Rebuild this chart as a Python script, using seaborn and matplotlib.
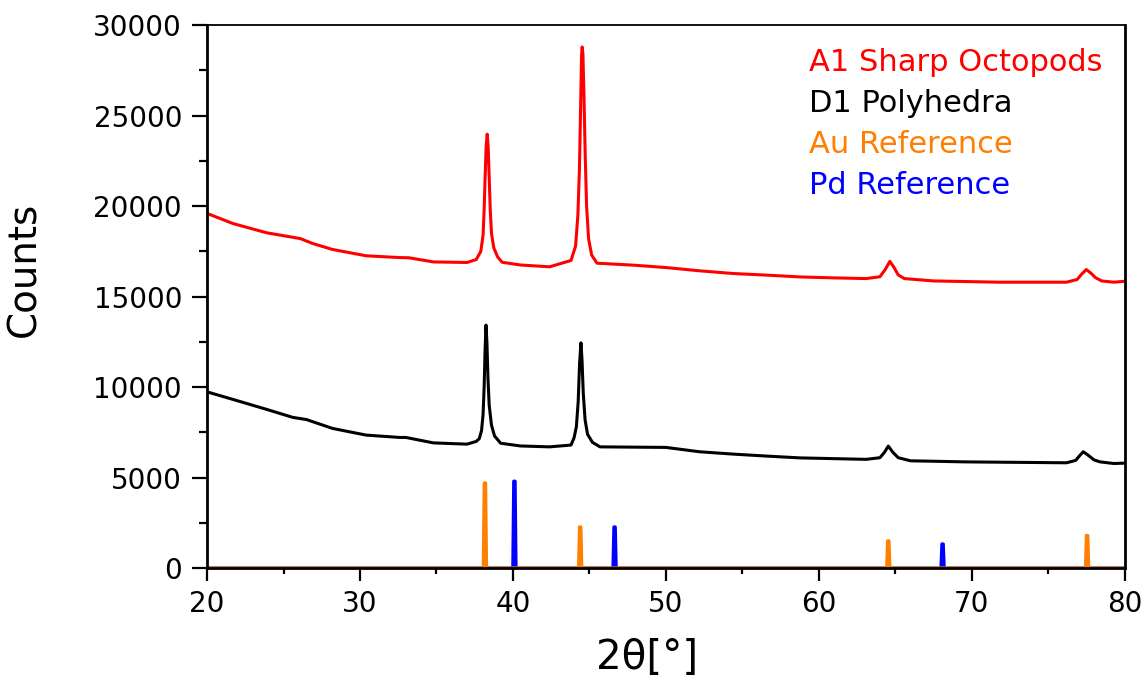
import matplotlib
matplotlib.use("Agg")
import matplotlib.pyplot as plt
import seaborn as sns
import numpy as np
import pandas as pd

# ---------------- data ----------------
a1_theta = [20.0, 21.7, 23.9, 26.1, 26.9, 28.2, 30.4, 32.6, 33.2, 34.8, 37.0, 37.6,
            37.9, 38.05, 38.12, 38.18, 38.25, 38.32, 38.38, 38.45, 38.52, 38.6, 38.75,
            39.0, 39.3, 40.5, 42.4, 43.8, 44.1, 44.25, 44.35, 44.43, 44.49, 44.53,
            44.58, 44.65, 44.73, 44.82, 44.95, 45.15, 45.5, 47.9, 50.0, 52.2, 54.4,
            56.6, 58.8, 60.9, 63.1, 64.0, 64.35, 64.65, 64.9, 65.2, 65.6, 67.5, 71.8,
            76.2, 76.9, 77.2, 77.5, 77.8, 78.1, 78.5, 79.3, 80.0]
a1_counts = [19600, 19040, 18530, 18210, 17940, 17610, 17260, 17160, 17150, 16920, 16890, 17050,
             17500, 18400, 19800, 21500, 23300, 23980, 23300, 21600, 19800, 18500, 17700,
             17200, 16900, 16750, 16650, 17000, 17800, 19500, 22000, 25500, 28300, 28800,
             28400, 26000, 22800, 20000, 18200, 17300, 16850, 16740, 16610, 16430, 16280,
             16190, 16090, 16040, 16000, 16100, 16500, 16950, 16650, 16200, 16000, 15870, 15800,
             15800, 15950, 16250, 16500, 16300, 16050, 15870, 15800, 15850]

d1_theta = [20.0, 21.7, 23.9, 25.6, 26.5, 28.2, 30.4, 32.6, 33.0, 34.8, 37.0, 37.6,
            37.8, 37.95, 38.05, 38.12, 38.18, 38.24, 38.3, 38.37, 38.45, 38.6, 38.8,
            39.2, 40.5, 42.4, 43.8, 44.0, 44.15, 44.27, 44.36, 44.45, 44.52, 44.6,
            44.72, 44.88, 45.2, 45.7, 50.0, 52.2, 54.4, 56.6, 58.8, 63.1, 64.0,
            64.3, 64.55, 64.85, 65.2, 66.0, 69.6, 76.2, 76.8, 77.1, 77.3, 77.6,
            78.0, 78.4, 79.3, 80.0]
d1_counts = [9740, 9320, 8770, 8330, 8210, 7720, 7350, 7220, 7220, 6920, 6850, 7000,
             7150, 7600, 8500, 10000, 12000, 13430, 12500, 10500, 9000, 7900, 7300,
             6900, 6750, 6700, 6800, 7200, 7800, 9200, 11300, 12450, 11500, 9700,
             8200, 7400, 6950, 6700, 6670, 6430, 6300, 6190, 6090, 6010, 6100,
             6400, 6740, 6400, 6100, 5930, 5870, 5820, 5950, 6250, 6430, 6250,
             5980, 5870, 5780, 5800]

au_theta = [38.17, 44.40, 64.55, 77.55]
au_counts = [4700, 2270, 1500, 1800]
pd_theta = [40.10, 46.65, 68.10]
pd_counts = [4800, 2270, 1330]

series_labels = ["A1 Sharp Octopods", "D1 Polyhedra", "Au Reference", "Pd Reference"]
series_colors = ["#FF0000", "#000000", "#FF7F00", "#0000FF"]

x_ticks = [20, 30, 40, 50, 60, 70, 80]
y_ticks = [0, 5000, 10000, 15000, 20000, 25000, 30000]


def stick_pattern(pos, hts, lo=20.0, hi=80.0, half=0.1):
    xs, ys = [lo], [0]
    for p, h in zip(pos, hts):
        xs += [p - half, p - 0.04, p + 0.04, p + half]
        ys += [0, h, h, 0]
    xs.append(hi)
    ys.append(0)
    return pd.DataFrame({"theta": xs, "counts": ys})


df_a1 = pd.DataFrame({"theta": a1_theta, "counts": a1_counts})
df_d1 = pd.DataFrame({"theta": d1_theta, "counts": d1_counts})
df_au = stick_pattern(au_theta, au_counts)
df_pd = stick_pattern(pd_theta, pd_counts)

# ---------------- figure ----------------
sns.set_style("ticks")
plt.rcParams["font.family"] = ["DejaVu Sans"]

fig = plt.figure(figsize=(11.44, 6.82), dpi=100)
ax = fig.add_axes([0.181, 0.167, 0.802, 0.796])

kw = dict(x="theta", y="counts", ax=ax, estimator=None, sort=False)
sns.lineplot(data=df_a1, color=series_colors[0], linewidth=2.2, **kw)
sns.lineplot(data=df_d1, color=series_colors[1], linewidth=2.2, **kw)
sns.lineplot(data=df_pd, color=series_colors[3], linewidth=2.4, **kw)
sns.lineplot(data=df_au, color=series_colors[2], linewidth=2.4, **kw)

ax.set_xlim(20, 80)
ax.set_ylim(0, 30000)
ax.set_xticks(x_ticks)
ax.set_yticks(y_ticks)
ax.set_xticks(np.arange(25, 80, 10), minor=True)
ax.set_yticks(np.arange(2500, 30000, 5000), minor=True)
ax.set_xticklabels([str(v) for v in x_ticks])
ax.set_yticklabels([str(v) for v in y_ticks])

ax.tick_params(axis="both", which="both", bottom=True, left=True, top=False, right=False)
ax.tick_params(axis="y", which="major", direction="out", length=11, width=1.6,
               labelsize=20, pad=7, colors="black")
ax.tick_params(axis="y", which="minor", direction="out", length=5.5, width=1.6, colors="black")
ax.tick_params(axis="x", which="major", direction="out", length=9, width=1.6,
               labelsize=20, pad=7, colors="black")
ax.tick_params(axis="x", which="minor", direction="out", length=4.5, width=1.6, colors="black")

for side in ["left", "bottom", "right"]:
    ax.spines[side].set_visible(True)
    ax.spines[side].set_linewidth(2.0)
    ax.spines[side].set_color("black")
ax.spines["top"].set_visible(True)
ax.spines["top"].set_linewidth(1.3)
ax.spines["top"].set_color("black")

ax.set_xlabel("2θ[°]", fontsize=29, color="black")
ax.set_ylabel("Counts", fontsize=28, color="black")
ax.xaxis.set_label_coords(0.48, -0.128)
ax.yaxis.set_label_coords(-0.178, 0.55)

label_y = [0.916, 0.840, 0.764, 0.689]
for lab, col, yy in zip(series_labels, series_colors, label_y):
    ax.text(0.656, yy, lab, color=col, fontsize=22, transform=ax.transAxes,
            ha="left", va="baseline")

fig.savefig("out.png", dpi=100)
